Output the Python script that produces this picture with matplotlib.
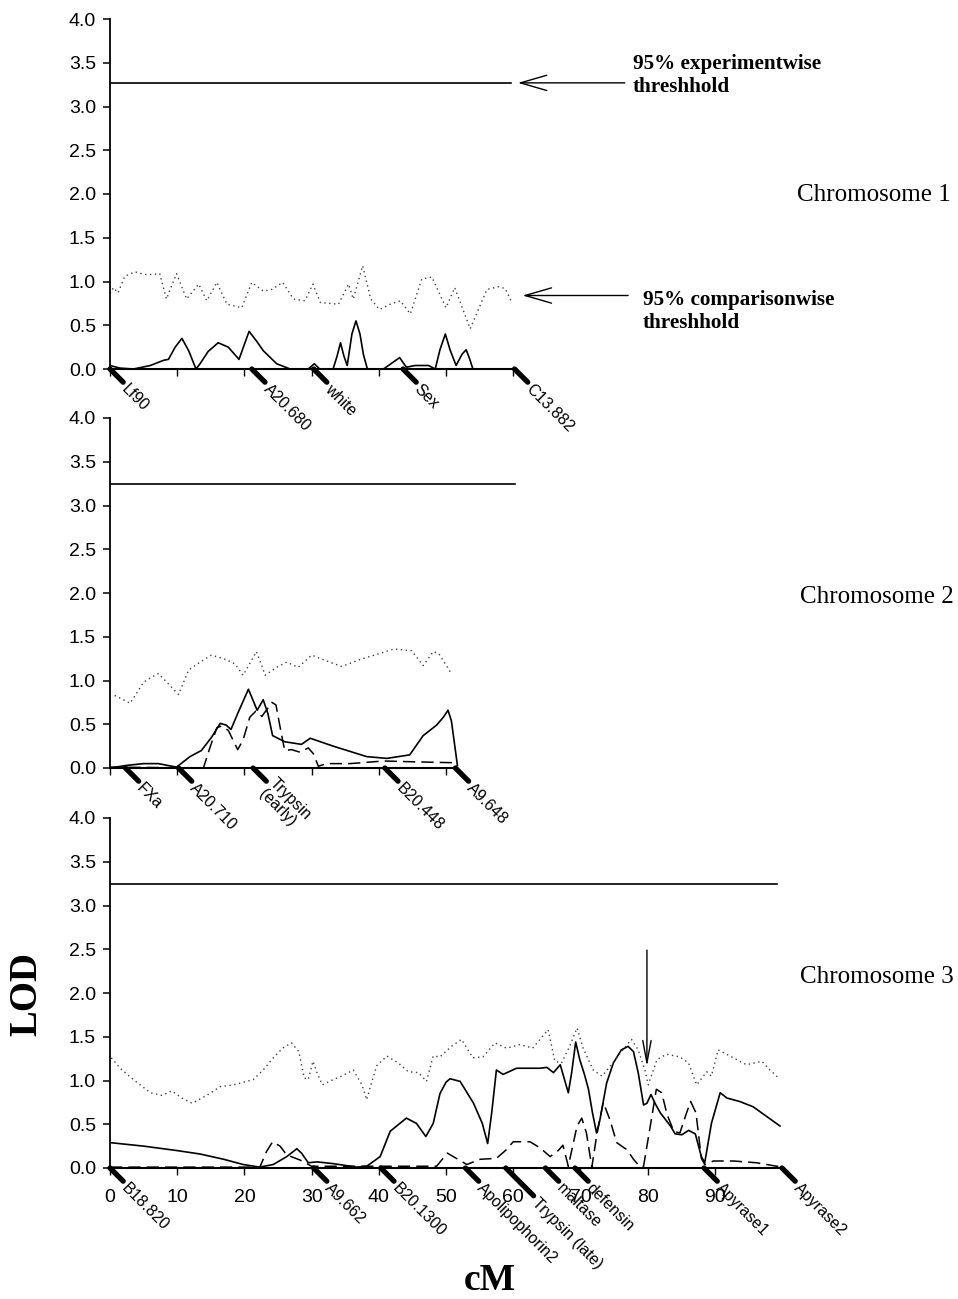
import matplotlib
matplotlib.use("Agg")
from matplotlib import pyplot as plt

# ---- data (cM positions, LOD scores) ----
chr1_pos = [0, 1.5, 3.5, 6, 8, 8.7, 9.7, 10.7, 11.7, 12.8, 13.4, 14.6, 16.1, 17.6, 19.2, 19.8, 20.7,
            21.8, 22.8, 24.8, 26.8, 29.5, 30.4, 31.2, 33.2, 33.8, 34.3, 34.8, 35.3, 36.0, 36.6, 37.2,
            37.7, 38.3, 40.7, 43.1, 44.1, 45.4, 47.4, 48.4, 49.1, 49.9, 50.6, 51.5, 52.4, 53.0, 53.5,
            54.0, 60.2]
chr1_lod = [0.04, 0.01, 0, 0.04, 0.10, 0.11, 0.25, 0.35, 0.21, 0, 0.06, 0.20, 0.30, 0.25, 0.11, 0.24,
            0.43, 0.32, 0.21, 0.06, 0, 0, 0.06, 0, 0, 0.15, 0.30, 0.15, 0.04, 0.40, 0.55, 0.40,
            0.17, 0, 0, 0.13, 0.02, 0.04, 0.04, 0, 0.22, 0.40, 0.22, 0.04, 0.17, 0.22, 0.12,
            0, 0]
chr1_cw_pos = [0, 0.5, 1.2, 2.2, 3.7, 5.2, 6.4, 7.4, 8.4, 9.9, 11.4, 13.2, 14.4, 15.9, 17.4, 19.6,
               21.1, 22.8, 24.1, 25.7, 27.3, 29.0, 30.2, 31.3, 34.0, 35.5, 36.2, 37.6, 38.8, 40.1,
               41.7, 43.2, 44.7, 46.4, 47.9, 50.0, 51.3, 53.6, 56.1, 57.8, 58.8, 59.8]
chr1_cw = [0.86, 0.93, 0.87, 1.06, 1.11, 1.08, 1.08, 1.09, 0.80, 1.09, 0.80, 0.97, 0.78, 0.99, 0.74, 0.70,
           0.99, 0.89, 0.91, 0.99, 0.80, 0.78, 0.97, 0.76, 0.74, 0.97, 0.80, 1.18, 0.80, 0.68,
           0.74, 0.78, 0.63, 1.03, 1.05, 0.70, 0.93, 0.46, 0.91, 0.94, 0.92, 0.76]

chr2_pos = [0, 2.5, 5, 7.2, 9.9, 11.9, 13.6, 15.1, 16.4, 17.3, 18.0, 19.1, 20.6, 21.9, 22.8, 23.5,
            24.2, 26.0, 28.5, 29.8, 33.2, 38.2, 41.2, 44.6, 46.6, 48.6, 49.6, 50.3, 50.8, 51.7]
chr2_lod = [0, 0.03, 0.05, 0.05, 0.01, 0.13, 0.20, 0.35, 0.51, 0.49, 0.44, 0.64, 0.90, 0.66, 0.78, 0.62,
            0.37, 0.30, 0.27, 0.34, 0.25, 0.13, 0.11, 0.15, 0.37, 0.49, 0.58, 0.66, 0.54, 0.03]
chr2_dash_pos = [0, 13.9, 14.9, 15.9, 16.6, 17.6, 19.0, 19.8, 20.8, 21.7, 22.6, 24.1, 24.7, 25.5, 26.0,
                 27.0, 28.3, 29.5, 30.3, 31.0, 32.2, 35.7, 40.7, 45.6, 51.3, 51.7]
chr2_dash = [0.01, 0, 0.24, 0.46, 0.48, 0.43, 0.21, 0.32, 0.58, 0.65, 0.59, 0.75, 0.72, 0.39, 0.20,
             0.21, 0.18, 0.23, 0.16, 0.02, 0.05, 0.05, 0.08, 0.07, 0.06, 0.02]
chr2_cw_pos = [0.7, 3.0, 5.0, 6.0, 7.2, 10.2, 11.7, 13.4, 15.1, 16.9, 18.6, 19.8, 21.8, 23.1, 24.8,
               26.3, 28.0, 30.0, 32.7, 34.5, 37.2, 40.2, 42.2, 44.9, 46.6, 48.1, 48.9, 50.8]
chr2_cw = [0.83, 0.74, 0.98, 1.03, 1.08, 0.84, 1.12, 1.21, 1.29, 1.25, 1.19, 1.06, 1.33, 1.06, 1.15,
           1.21, 1.15, 1.29, 1.21, 1.16, 1.24, 1.31, 1.36, 1.34, 1.17, 1.33, 1.31, 1.08]

chr3_pos = [0, 5, 9.9, 13.4, 16.9, 19.8, 22.3, 24.3, 26.3, 27.8, 28.5, 29.5, 30.8, 33.2, 36.7, 38.2,
            40.2, 41.7, 44.1, 45.6, 47.0, 48.1, 49.1, 50.0, 50.6, 52.1, 54.1, 55.4, 56.2, 56.8,
            57.5, 58.5, 60.5, 64.0, 65.0, 66.0, 67.0, 68.2, 68.7, 69.3, 69.9, 70.6, 71.2, 71.8,
            72.4, 72.9, 73.9, 74.9, 76.1, 77.1, 77.9, 78.6, 79.4, 79.9, 80.5, 81.1, 81.9, 83.4,
            84.1, 85.1, 86.1, 87.1, 88.0, 88.5, 89.5, 90.8, 91.8, 93.7, 95.7, 97.7, 99.7]
chr3_lod = [0.29, 0.25, 0.20, 0.16, 0.10, 0.04, 0.01, 0.04, 0.13, 0.22, 0.17, 0.06, 0.07, 0.05, 0.01, 0.02,
            0.13, 0.42, 0.57, 0.51, 0.36, 0.51, 0.85, 0.98, 1.02, 0.99, 0.74, 0.51, 0.28, 0.63,
            1.12, 1.07, 1.14, 1.14, 1.15, 1.09, 1.18, 0.86, 1.09, 1.44, 1.24, 1.07, 0.90, 0.63,
            0.40, 0.55, 0.97, 1.20, 1.35, 1.39, 1.33, 1.09, 0.72, 0.74, 0.84, 0.74, 0.63, 0.48,
            0.39, 0.38, 0.43, 0.39, 0.13, 0.06, 0.51, 0.86, 0.80, 0.76, 0.70, 0.59, 0.48]
chr3_dash_pos = [0, 22.3, 23.3, 24.2, 25.3, 26.3, 28.3, 30.0, 48.6, 50.2, 53.1, 55.1, 57.5, 59.0, 60.0,
                 62.5, 64.0, 65.5, 66.7, 67.4, 68.2, 69.5, 70.2, 70.9, 71.7, 72.4, 73.4, 74.4, 75.4,
                 76.9, 77.9, 78.8, 79.4, 80.4, 81.3, 82.1, 82.9, 83.9, 84.8, 85.8, 86.4, 87.2, 88.0,
                 88.5, 89.8, 92.8, 96.2, 100]
chr3_dash = [0.01, 0.01, 0.19, 0.30, 0.25, 0.15, 0.09, 0.02, 0.02, 0.17, 0.04, 0.10, 0.11, 0.21, 0.30,
             0.30, 0.23, 0.13, 0.20, 0.26, 0.02, 0.48, 0.57, 0.40, 0.01, 0.36, 0.75, 0.55, 0.29,
             0.21, 0.10, 0.02, 0.02, 0.48, 0.90, 0.86, 0.61, 0.42, 0.40, 0.63, 0.76, 0.63, 0.11,
             0.04, 0.08, 0.08, 0.06, 0.01]
chr3_cw_pos = [0.2, 1.5, 3.5, 6.0, 7.7, 9.2, 10.7, 12.2, 14.4, 16.4, 18.4, 21.3, 22.8, 24.3, 25.7, 27.0,
               28.1, 28.9, 29.5, 30.2, 30.8, 31.6, 33.2, 34.5, 36.2, 37.5, 38.2, 38.9, 39.7, 41.2,
               42.9, 44.4, 45.9, 47.1, 48.1, 49.1, 50.8, 52.3, 54.0, 55.5, 57.3, 59.0, 61.0, 62.9,
               64.2, 65.2, 66.2, 67.2, 68.4, 69.5, 70.4, 71.9, 73.2, 74.4, 76.1, 77.6, 78.6, 79.6,
               80.1, 81.4, 82.8, 84.8, 86.1, 87.3, 88.8, 89.5, 90.5, 92.5, 94.7, 97.0, 98.2, 99.5]
chr3_cw = [1.26, 1.14, 1.01, 0.86, 0.83, 0.88, 0.80, 0.74, 0.83, 0.93, 0.95, 1.01, 1.12, 1.26, 1.37, 1.43,
           1.33, 1.03, 1.01, 1.22, 1.09, 0.95, 1.01, 1.05, 1.12, 0.95, 0.78, 0.97, 1.17, 1.28,
           1.20, 1.10, 1.09, 0.99, 1.28, 1.27, 1.39, 1.47, 1.26, 1.27, 1.43, 1.37, 1.41, 1.37,
           1.49, 1.58, 1.22, 1.20, 1.39, 1.60, 1.37, 1.12, 1.05, 1.16, 1.33, 1.47, 1.35, 1.12,
           0.95, 1.24, 1.30, 1.27, 1.20, 0.95, 1.10, 1.05, 1.35, 1.27, 1.18, 1.22, 1.12, 1.03]

# experimentwise thresholds and where each line stops
thresh_lod = [3.27, 3.25, 3.25]
thresh_end = [59.6, 60.2, 99.2]
chrom_len = [60.2, 51.7, 100]

chr1_markers = ["Lf90", "A20.680", "white", "Sex", "C13.882"]
chr1_marker_pos = [0, 21.1, 30.3, 43.6, 60.2]
chr2_markers = ["FXa", "A20.710", "Trypsin\n(early)", "B20.448", "A9.648"]
chr2_marker_pos = [2.3, 10.2, 21.3, 40.9, 51.4]
chr3_markers = ["B18.820", "A9.662", "B20.1300", "Apolipophorin2", "Trypsin (late)", "maltase",
                "defensin", "Apyrase1", "Apyrase2"]
chr3_marker_pos = [0, 30.3, 40.3, 52.9, 58.9, 64.8, 69.2, 88.4, 100]

W, H = 958, 1299
SANS = "Liberation Sans"
SERIF = "Liberation Serif"


def fx(px):
    return px / W


def fy(py):
    return 1 - py / H


def draw_panel(ax, idx, solid, dotted, dashed, markers, marker_pos, numbered):
    ax.patch.set_visible(False)
    ax.plot(*solid, color="black", lw=1.2)
    if dashed is not None:
        ax.plot(*dashed, color="black", lw=1.1, linestyle=(0, (8, 4)))
    ax.plot(*dotted, color="0.25", lw=1.0, linestyle=(0, (1, 2.5)))
    ax.plot([0, thresh_end[idx]], [thresh_lod[idx]] * 2, color="black", lw=1.2)

    ax.set_xlim(0, 100)
    ax.set_ylim(0, 4)
    for s in ["top", "right"]:
        ax.spines[s].set_visible(False)
    ax.spines["left"].set_linewidth(1.3)
    ax.spines["bottom"].set_linewidth(1.5)
    ax.spines["bottom"].set_bounds(0, chrom_len[idx])
    ax.set_yticks([i * 0.5 for i in range(9)])
    ax.set_yticklabels(["%.1f" % (i * 0.5) for i in range(9)], fontfamily=SANS, fontsize=14)
    ax.tick_params(axis="y", direction="out", length=5, width=1.1, pad=5)
    last = 90 if numbered else int(chrom_len[idx] // 10) * 10
    ax.set_xticks(range(0, last + 1, 10))
    if numbered:
        ax.set_xticklabels([str(v) for v in range(0, last + 1, 10)], fontfamily=SANS, fontsize=14)
        ax.tick_params(axis="x", direction="out", length=5, width=1.0, pad=10)
    else:
        ax.set_xticklabels([])
        ax.tick_params(axis="x", direction="out", length=5, width=1.0)

    for name, p in zip(markers, marker_pos):
        d = 20 if name == "Trypsin (late)" else 9.5
        ax.annotate("", xy=(p, 0), xytext=(d, -d), textcoords="offset points",
                    arrowprops=dict(arrowstyle="-", lw=3.8, color="black", shrinkA=0, shrinkB=0))
        ax.annotate(name, xy=(p, 0), xytext=(d + 0.5, -d - 3.5), textcoords="offset points",
                    rotation=-45, rotation_mode="anchor", ha="left", va="center",
                    fontfamily=SANS, fontsize=11.5, linespacing=1.0)


fig = plt.figure(figsize=(W / 100, H / 100), dpi=100)
axes = []
for y0 in [369, 768, 1168]:
    axes.append(fig.add_axes([fx(110), fy(y0), 672 / W, 350 / H]))

draw_panel(axes[0], 0, (chr1_pos, chr1_lod), (chr1_cw_pos, chr1_cw), None,
           chr1_markers, chr1_marker_pos, False)
draw_panel(axes[1], 1, (chr2_pos, chr2_lod), (chr2_cw_pos, chr2_cw), (chr2_dash_pos, chr2_dash),
           chr2_markers, chr2_marker_pos, False)
draw_panel(axes[2], 2, (chr3_pos, chr3_lod), (chr3_cw_pos, chr3_cw), (chr3_dash_pos, chr3_dash),
           chr3_markers, chr3_marker_pos, True)

# threshold arrows + notes on chromosome 1
head = "->, head_length=1.9, head_width=0.55"
axes[0].annotate("", xy=(60.7, 3.27), xytext=(76.6, 3.27),
                 arrowprops=dict(arrowstyle=head, lw=1.0, color="black", shrinkA=0, shrinkB=0,
                                 mutation_scale=10))
axes[0].annotate("", xy=(61.4, 0.84), xytext=(77.1, 0.84),
                 arrowprops=dict(arrowstyle=head, lw=1.0, color="black", shrinkA=0, shrinkB=0,
                                 mutation_scale=10))
fig.text(fx(633), fy(54), "95% experimentwise\nthreshhold", ha="left", va="top",
         fontfamily=SERIF, fontweight="bold", fontsize=15.2)
fig.text(fx(643), fy(290), "95% comparisonwise\nthreshhold", ha="left", va="top",
         fontfamily=SERIF, fontweight="bold", fontsize=15.2)

# peak arrow on chromosome 3
axes[2].annotate("", xy=(79.9, 1.16), xytext=(79.9, 2.49),
                 arrowprops=dict(arrowstyle="->, head_length=1.6, head_width=0.3", lw=1.0,
                                 color="black", shrinkA=0, shrinkB=0, mutation_scale=10))

for i, (px, py) in enumerate([(797, 195), (800, 597), (800, 977)]):
    fig.text(fx(px), fy(py), "Chromosome %d" % (i + 1), ha="left", va="center",
             fontfamily=SERIF, fontsize=18)

fig.text(fx(27), fy(994), "LOD", rotation=90, ha="center", va="center",
         fontfamily=SERIF, fontweight="bold", fontsize=28)
fig.text(fx(490), fy(1280), "cM", ha="center", va="center",
         fontfamily=SERIF, fontweight="bold", fontsize=27)

fig.savefig("out.png", dpi=100, facecolor="white")
